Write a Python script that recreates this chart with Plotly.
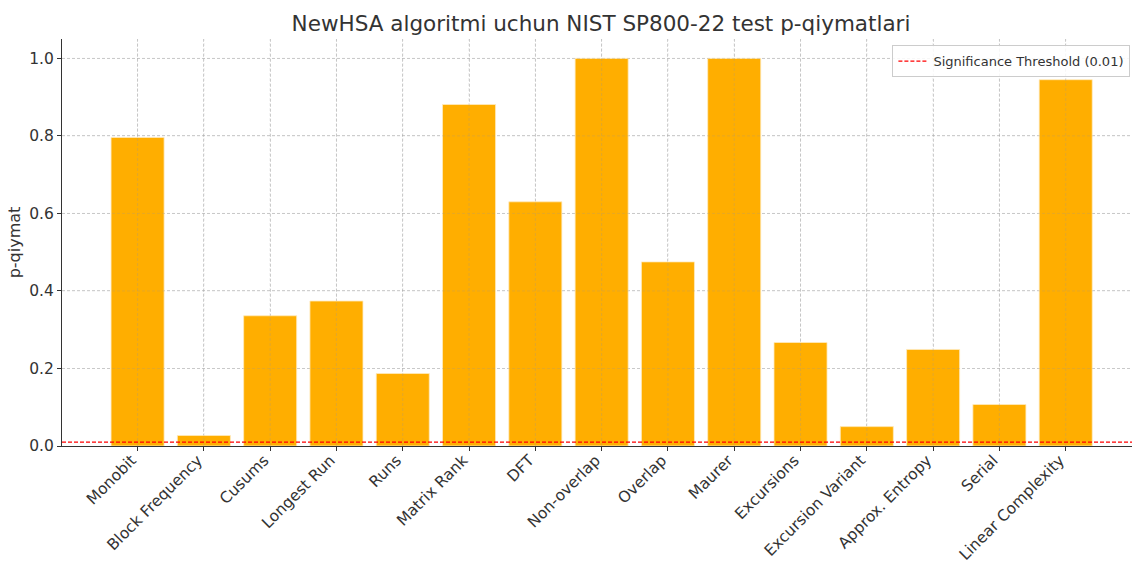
import plotly.graph_objects as go

tests = ["Monobit", "Block Frequency", "Cusums", "Longest Run", "Runs", "Matrix Rank",
         "DFT", "Non-overlap", "Overlap", "Maurer", "Excursions", "Excursion Variant",
         "Approx. Entropy", "Serial", "Linear Complexity"]
p_values = [0.796, 0.027, 0.336, 0.374, 0.187, 0.881, 0.630, 1.0, 0.475, 1.0,
            0.267, 0.050, 0.249, 0.107, 0.945]
threshold = 0.01
y_ticks = [0.0, 0.2, 0.4, 0.6, 0.8, 1.0]

idx = list(range(len(tests)))
font = "DejaVu Sans"
grid_col = "rgba(190,190,190,0.6)"
txt = "#333333"

fig = go.Figure()
fig.add_trace(go.Bar(
    x=idx, y=p_values, width=0.8,
    marker=dict(color="#FFAE00", line=dict(color="rgba(255,235,190,1)", width=0.8)),
    showlegend=False,
))

fig.add_shape(type="line", xref="paper", x0=0, x1=1, yref="y", y0=threshold, y1=threshold,
              line=dict(color="red", width=1.2, dash="4px,2px"), layer="above",
              showlegend=True, name="Significance Threshold (0.01)")

# faint grid lines drawn above the bars (as in the reference)
for i in idx:
    fig.add_shape(type="line", xref="x", x0=i, x1=i, yref="paper", y0=0, y1=1,
                  line=dict(color="rgba(150,150,150,0.35)", width=0.8, dash="3px,2px"),
                  layer="above")
for v in y_ticks[1:]:
    fig.add_shape(type="line", xref="paper", x0=0, x1=1, yref="y", y0=v, y1=v,
                  line=dict(color="rgba(150,150,150,0.3)", width=0.8, dash="3px,2px"),
                  layer="above")

fig.update_layout(
    width=1132, height=563,
    margin=dict(l=62, r=0, t=39, b=117, autoexpand=False),
    paper_bgcolor="white", plot_bgcolor="white",
    font=dict(family=font, size=14, color=txt),
    title=dict(text="NewHSA algoritmi uchun NIST SP800-22 test p-qiymatlari",
               x=(601 / 1132), xanchor="center", y=1 - 23 / 563, yanchor="middle",
               font=dict(family=font, size=21.5, color=txt)),
    legend=dict(x=0.9985, xanchor="right", y=0.985, yanchor="top",
                bgcolor="rgba(255,255,255,0.85)", bordercolor="#cccccc", borderwidth=1,
                itemwidth=30, tracegroupgap=0,
                font=dict(family=font, size=13, color=txt)),
    bargap=0.2,
)
fig.update_xaxes(
    range=[-1.14, 15.0], tickmode="array", tickvals=idx, ticktext=tests, tickangle=-45,
    showgrid=True, gridcolor=grid_col, griddash="3px,2px", gridwidth=0.8,
    showline=True, linecolor=txt, linewidth=1.2, automargin=False,
    ticks="outside", ticklen=4, tickcolor=txt,
    ticklabelstandoff=-6, ticklabelshift=-6,
    tickfont=dict(family=font, size=15.5, color=txt), zeroline=False,
)
fig.update_yaxes(
    range=[0, 1.05], tickmode="array", tickvals=y_ticks,
    ticktext=[f"{v:.1f}" for v in y_ticks],
    showgrid=True, gridcolor=grid_col, griddash="3px,2px", gridwidth=0.8,
    showline=True, linecolor=txt, linewidth=1.2, automargin=False,
    ticks="outside", ticklen=4, tickcolor=txt,
    tickfont=dict(family=font, size=15.5, color=txt), zeroline=False,
    title=dict(text="p-qiymat", font=dict(family=font, size=16, color=txt), standoff=4),
)

fig.write_html("out.html", config={"displayModeBar": False},
               post_script="document.body.style.margin='0';document.body.style.overflow='hidden';")
